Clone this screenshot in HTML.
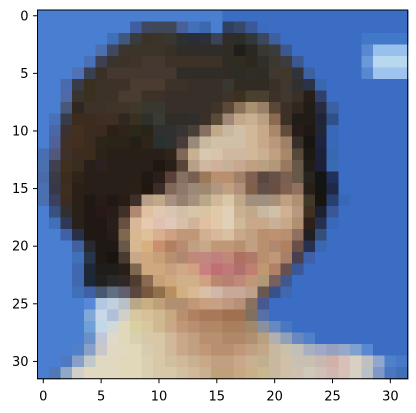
<!DOCTYPE html>
<html><head><meta charset="utf-8"><style>
html,body{margin:0;padding:0;background:#fff;}
svg{display:block;}
text{font-family:"DejaVu Sans","Liberation Sans",sans-serif;font-size:13px;fill:#000;}
</style></head><body>
<svg id="chart" width="416" height="413" viewBox="0 0 416 413" xmlns="http://www.w3.org/2000/svg">
<g id="cells" shape-rendering="crispEdges"></g>
<rect x="37.5" y="10" width="370.2" height="368.7" fill="none" stroke="#000" stroke-width="1"/>
<g id="xticks"></g>
<g id="yticks"></g>
</svg>
<script>
const xTickLabels = [0, 5, 10, 15, 20, 25, 30];
const yTickLabels = [0, 5, 10, 15, 20, 25, 30];
const blueLeft = "4a7ed0";
const blueRight = "3b6dc5";
const pixelRows = [
"B B B B B B B B B B B B B B B B b b b b b b b b b b b b b b b b",
"B B B B B B B B 3f5fa0 404860 404858 404858 4a6098 4470b8 3c68b0 B 304060 38486a 3c5898 3c6cc0 b b b b b b b b b b b b",
"B B B B B B 4070b8 405880 383c3c 3a3428 3c3428 383830 2c3030 2a2c38 2c3038 3a4458 302c28 2c2c28 303838 3c4860 3c60a0 b b b b b b b 4278c8 4278c8 4278c8 4278c8",
"B B B B B 4a70b0 404860 3c3430 3c3428 3c3428 3c3428 383028 302c28 302c28 302c28 302c28 302c24 201e18 2a2820 383830 3a3c3c 3c5890 b b b b b b 5a88d0 98c0ec 98c0ec 98c0ec",
"B B B B 4a70b8 3c4050 3a3430 3c3228 403428 443830 443830 3c3228 3c3228 3c3228 3c3228 3c3228 302c24 302c20 2c2820 303028 3c3830 3a3c40 3c5890 b b b b b 6c98d8 b8d8f0 b8d8f0 b8d8f0",
"B B B 5070b8 3a4050 3a3028 443830 443830 443830 443830 443830 443830 302c28 302c28 302c28 302c28 302c24 2c2c24 302c28 302c24 403830 403828 303438 3c60a0 b b b b 5888d0 a0c4f0 a0c4f0 a0c4f0",
"B B 4a6ab0 383c48 3a3020 3c3228 3c3228 3c3228 4a3c30 4a3c30 4a3c30 3c3228 3c3228 383028 383028 383028 383830 302c24 302c24 302c24 3a3028 403830 303030 2a3448 3a68b0 b b b b b b b",
"B B 506aa8 383430 3a3020 3c3228 3c3228 4a3c30 4a3c30 3c3228 3c3228 383028 383028 383028 383028 383028 3c3428 3c3020 4a4030 4a4030 3c3028 403830 3a3028 281e18 30406a b b b b b b b",
"B B 485878 302820 3c3228 3c3228 403428 403428 403828 383830 383830 383028 383028 383028 383028 403428 5a4838 8a7058 a89070 988068 584838 3c3028 302820 201c18 282c40 3c60a0 b b b b b b",
"B 4a70b8 383c48 3c2c20 3c2c20 3e2e24 402e24 302820 3a3020 30302a 3a3a34 302c28 302c28 302e2a 3a3028 5a4a38 a08878 c0a888 c8b090 b8a080 8a6a50 3c3024 201c18 201c18 202438 305088 b b b b b b",
"B 4a68a8 3c3030 43301e 3c2c20 3c2a1e 2c2018 302418 2a2818 282418 303030 303030 383434 484038 887060 c0a888 c8b8a0 d0c0a8 d0b898 c8a888 a88868 604c38 281c18 201814 202838 3a68b8 b b b b b b",
"B 506098 40302a 442e20 3a2c20 2c2418 2a2418 2a2418 242018 302418 283030 303030 483c38 9a8878 c8b8a0 d0c0a8 d0c0a8 d0c0a8 d0b898 c8a888 b89878 a08068 383028 181410 1c2440 3a68b8 b b b b b b",
"4a6eb4 50587c 40302a 3a2c20 3c2c1c 2a2418 282018 282018 282018 282018 282018 302418 806858 c8b090 d8c8b0 d8c4a8 d0b8a0 d0b8a0 d0b898 c8b090 c0a080 a88868 584838 1c1814 1c2038 3868b0 b b b b b b",
"4a70b0 404050 403020 3a2c1e 282018 2c2020 282018 282018 282018 282018 201810 282018 584438 b8a088 d0b8a0 d0b098 c8b098 c8a890 c0a080 b8a080 b09878 9a7860 685848 201c18 1c2038 3a6ab0 b b b b b b",
"4a6aa8 383c44 3c2c20 302418 282018 282018 282018 282018 282018 201814 2a1e18 5a4038 887060 786050 9a7858 b89070 b89070 a08068 806050 5a4840 685048 7a6050 685848 282420 141414 20305a b b b b b b",
"4a70b0 38384a 3c2e20 2a2018 282018 282018 282018 282018 2a2018 201810 3c2c28 806858 907868 9a8878 a08870 b09880 c0a080 b09078 806048 605048 685040 806050 907060 282018 141414 202848 b b b b b b",
"4a70b0 3a4060 3c2c20 2a2018 201814 281c18 201814 281c14 3c3028 b8a088 c0a888 a89080 988070 a89080 b8a888 d0b898 d8c8a8 c0a888 a09080 a09080 a89078 c0a080 b09070 403828 181410 284070 3a68b8 b b b b b",
"B 3a5080 303030 2a2018 201814 281818 281c18 403028 b08870 e0c0a0 e0c8b0 d8c4b0 d0c0a8 d8c4a8 d8c4a0 e0c8a8 e0d0b8 c8b090 c0a888 c8b8a0 d0c0a8 d0b090 b89880 403020 1c2030 3a5898 b b b b b b",
"B 4070b8 303858 28201a 201814 201814 282018 685040 d8b898 e8c8b0 e0c0b0 e0c8b8 d8c0a8 d0b498 e0c0a0 e0c8a8 e0d0b8 d0b898 c8a888 c8a888 c8b098 c8a888 b09070 2c2018 283050 3a68b8 b b b b b b",
"B B 4060a8 283048 201814 201814 281c18 806850 d8b890 e0c098 d8b090 d0a080 c09878 c09878 d0b090 d8b898 d8c0a0 c8a888 c0a080 b89070 c09070 b89070 907060 202020 34507a b b b b b b b",
"B B B 4060a0 282830 201814 201814 685848 d8b890 d8b080 c89070 b08060 b88c70 c0a080 c8a888 c09878 c09878 b89070 c0a080 b89070 b08870 b08060 685048 283050 3a68b0 b b b b b b b",
"B B B 4070b8 283448 201814 181410 483c30 c8a888 d0a880 c8a078 b89070 b08870 c08878 c08880 c08080 c08878 b07060 b07868 b89070 c09878 a88068 484050 4060a8 b b b b b b b b",
"B B B 4068b0 202838 201c1c 201c18 282018 806850 d0a880 d0a880 c8a080 d0a888 d0a080 c88080 c07070 c07878 b07070 c08070 c09870 b08068 685050 3a5898 b b b b b b b b b",
"B B B 4068b0 1c2838 202020 282828 302828 503c30 8a6a50 c8a078 d0a880 d0b088 d0b088 d0a080 b88870 b88070 c08878 c09878 b09878 786060 405890 b b b b b b b b b b",
"B B B 4070b8 4060a8 485870 607080 606070 5a4840 7a5840 907048 b89060 d0b080 d8b890 d8c0a8 d0b8a8 c8a898 c8a898 c0a088 685850 3a5088 4068b0 b b b b b b b b b b",
"B B B B 5a88d8 b0c8e0 c0d0e0 b8c0c8 b8a888 c8b080 c0a078 b09070 b09070 c09878 c8a080 c8a088 c09880 b89078 8a7060 485890 b b b b b b b b b b b b",
"B B B B 80a8d8 c8d8e8 b0c0d8 d0d0c8 d8c8a0 d8c098 d0b890 c8a880 b89070 b08060 a87858 a87858 a07050 a07050 807060 5870a8 b b b b b b b b b b b b",
"B B B B 70a0d8 c0d8e8 d0d8d8 e0d8b8 d8d0a0 d8c8a0 d0b890 c8a888 c09878 b89070 b08868 b08868 a88060 a88060 a08868 8a90a0 6a88c0 4a78c0 b b b b b b b b b b",
"B B B B 6a90c8 c0c8d8 e0d8c8 e0d8b8 d8d0b0 d8c8a8 d8c8a8 d0b898 c8a888 c0a080 b89070 b89070 b08868 b08868 b09070 b8a080 b0b0b0 90a0b8 6a88c0 5080c8 b b b b b b b b",
"B B B 5080c8 88a0c8 c8c8c8 e0d8c0 e0d8c0 e0d8b8 d8ccb0 d8c8a8 d0b898 c8a888 c0a080 c09878 b89070 b89070 c09878 c0a080 c0a888 c8b8a0 c8c0a8 c0c0b8 a8b0c0 a0a8c8 98a0c0 98a8c8 80a0d0 5888d0 b b b",
"B B 5078c0 88a0c8 c0c8c8 e0d8c0 e0d8c0 e0d8b8 e0d8b8 d8d0b0 d8c8a8 d0c0a0 d0b898 c8b090 c8a888 c0a080 c0a080 c8a888 c8b090 c0b090 c8b8a0 d0c0a8 c8c0b0 c8c0b0 c8b8b0 d0b0a8 d8c0b8 d8d0c0 c0c0c0 90a8d0 5080c8 4a78c8",
"B 5078b8 90a8c8 d0d0c8 e0d8c0 e0d8c0 e0d8c0 e0d8b8 e0d8b8 d8d0b0 d8c8a8 d8c8a8 d0c0a0 d0b898 c8b090 c0a078 c0a078 c8a880 c8b088 c8b890 c8b8a0 d0c0a8 d0c0b0 d0c8b8 d0c0b8 d0b8b0 d8c0b8 d8d0c0 b8c0c8 8098c8 4a78c0 4070b8"
];

const NS = "http://www.w3.org/2000/svg";
const X0 = 37.5, Y0 = 10, W = 370.2, H = 368.7, N = 32;
const cw = W / N, ch = H / N;
function xScale(i) { return X0 + i * cw; }
function yScale(j) { return Y0 + j * ch; }

const cells = document.getElementById('cells');
pixelRows.forEach((row, r) => {
  const toks = row.trim().split(/\s+/);
  for (let c = 0; c < N; c++) {
    let t = toks[c] || (c < 16 ? 'B' : 'b');
    let col = t === 'B' ? blueLeft : (t === 'b' ? blueRight : t);
    const rect = document.createElementNS(NS, 'rect');
    rect.setAttribute('x', xScale(c).toFixed(2));
    rect.setAttribute('y', yScale(r).toFixed(2));
    rect.setAttribute('width', (cw + 0.6).toFixed(2));
    rect.setAttribute('height', (ch + 0.6).toFixed(2));
    rect.setAttribute('fill', '#' + col);
    
    
    cells.appendChild(rect);
  }
});

const xt = document.getElementById('xticks');
xTickLabels.forEach(v => {
  const x = xScale(v + 0.5);
  const l = document.createElementNS(NS, 'line');
  l.setAttribute('x1', x); l.setAttribute('x2', x);
  l.setAttribute('y1', Y0 + H); l.setAttribute('y2', Y0 + H + 4.5);
  l.setAttribute('stroke', '#000');
  
  
  xt.appendChild(l);
  const t = document.createElementNS(NS, 'text');
  t.setAttribute('x', x); t.setAttribute('y', Y0 + H + 22);
  t.setAttribute('text-anchor', 'middle');
  t.textContent = v;
  
  
  xt.appendChild(t);
});
const yt = document.getElementById('yticks');
yTickLabels.forEach(v => {
  const y = yScale(v + 0.5);
  const l = document.createElementNS(NS, 'line');
  l.setAttribute('x1', X0 - 4.5); l.setAttribute('x2', X0);
  l.setAttribute('y1', y); l.setAttribute('y2', y);
  l.setAttribute('stroke', '#000');
  
  
  yt.appendChild(l);
  const t = document.createElementNS(NS, 'text');
  t.setAttribute('x', X0 - 9); t.setAttribute('y', y + 4.5);
  t.setAttribute('text-anchor', 'end');
  t.textContent = v;
  
  
  yt.appendChild(t);
});
</script>
</body></html>
